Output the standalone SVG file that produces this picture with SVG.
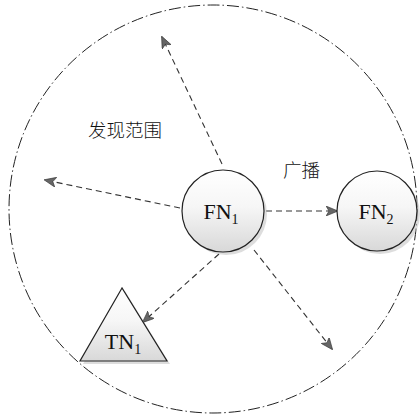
<svg xmlns="http://www.w3.org/2000/svg" width="420" height="420" viewBox="0 0 420 420">
<style>
.range{fill:none;stroke:#222;stroke-width:1;stroke-dasharray:12 3 1.5 3}
.conn{fill:none;stroke:#333;stroke-width:1.1;stroke-dasharray:6 4}
.node{fill:url(#g);stroke:#222;stroke-width:1.2}
.shadow{fill:#bbb;opacity:0.5}
.lbl{font-family:"Liberation Serif","DejaVu Serif",serif;font-size:22px;fill:#111}
.sub{font-size:14px}
.cjk{font-family:"Noto Sans CJK SC",sans-serif;font-size:18.5px;font-weight:300;fill:#111}
</style>
<defs>
<linearGradient id="g" x1="0" y1="0" x2="0" y2="1">
<stop offset="0" stop-color="#ffffff"/>
<stop offset="0.45" stop-color="#f6f6f6"/>
<stop offset="1" stop-color="#d8d8d8"/>
</linearGradient>
<marker id="ah" viewBox="0 0 12 10" refX="11" refY="5" markerWidth="12" markerHeight="10" markerUnits="userSpaceOnUse" orient="auto">
<path d="M0,0 L12,5 L0,10 L3,5 Z" fill="#666" stroke="#333" stroke-width="0.6"/>
</marker>
</defs>
<circle class="range" cx="213" cy="209" r="204"/>
<g id="connectors">
<line class="conn" x1="222" y1="164" x2="162" y2="37" marker-end="url(#ah)"/>
<line class="conn" x1="180" y1="208" x2="45" y2="180" marker-end="url(#ah)"/>
<line class="conn" x1="266" y1="211" x2="337" y2="211" marker-end="url(#ah)"/>
<line class="conn" x1="219" y1="254" x2="143" y2="322" marker-end="url(#ah)"/>
<line class="conn" x1="254" y1="250" x2="332" y2="349" marker-end="url(#ah)"/>
</g>
<g id="FN1">
<circle class="shadow" cx="226" cy="214" r="41"/>
<circle class="node" cx="223" cy="211" r="41"/>
<text class="lbl" x="221" y="219" text-anchor="middle">FN<tspan class="sub" dy="5">1</tspan></text>
</g>
<g id="FN2">
<circle class="shadow" cx="380" cy="214" r="40"/>
<circle class="node" cx="377" cy="211" r="40"/>
<text class="lbl" x="376" y="219" text-anchor="middle">FN<tspan class="sub" dy="5">2</tspan></text>
</g>
<g id="TN1">
<polygon class="shadow" points="125,291 83,364 170,364"/>
<polygon class="node" points="122,288 80,361 167,361"/>
<text class="lbl" x="123" y="349" text-anchor="middle">TN<tspan class="sub" dy="5">1</tspan></text>
</g>
<g id="labels">
<text class="cjk" x="88" y="137">发现范围</text>
<text class="cjk" x="283" y="177">广播</text>
</g>
</svg>
